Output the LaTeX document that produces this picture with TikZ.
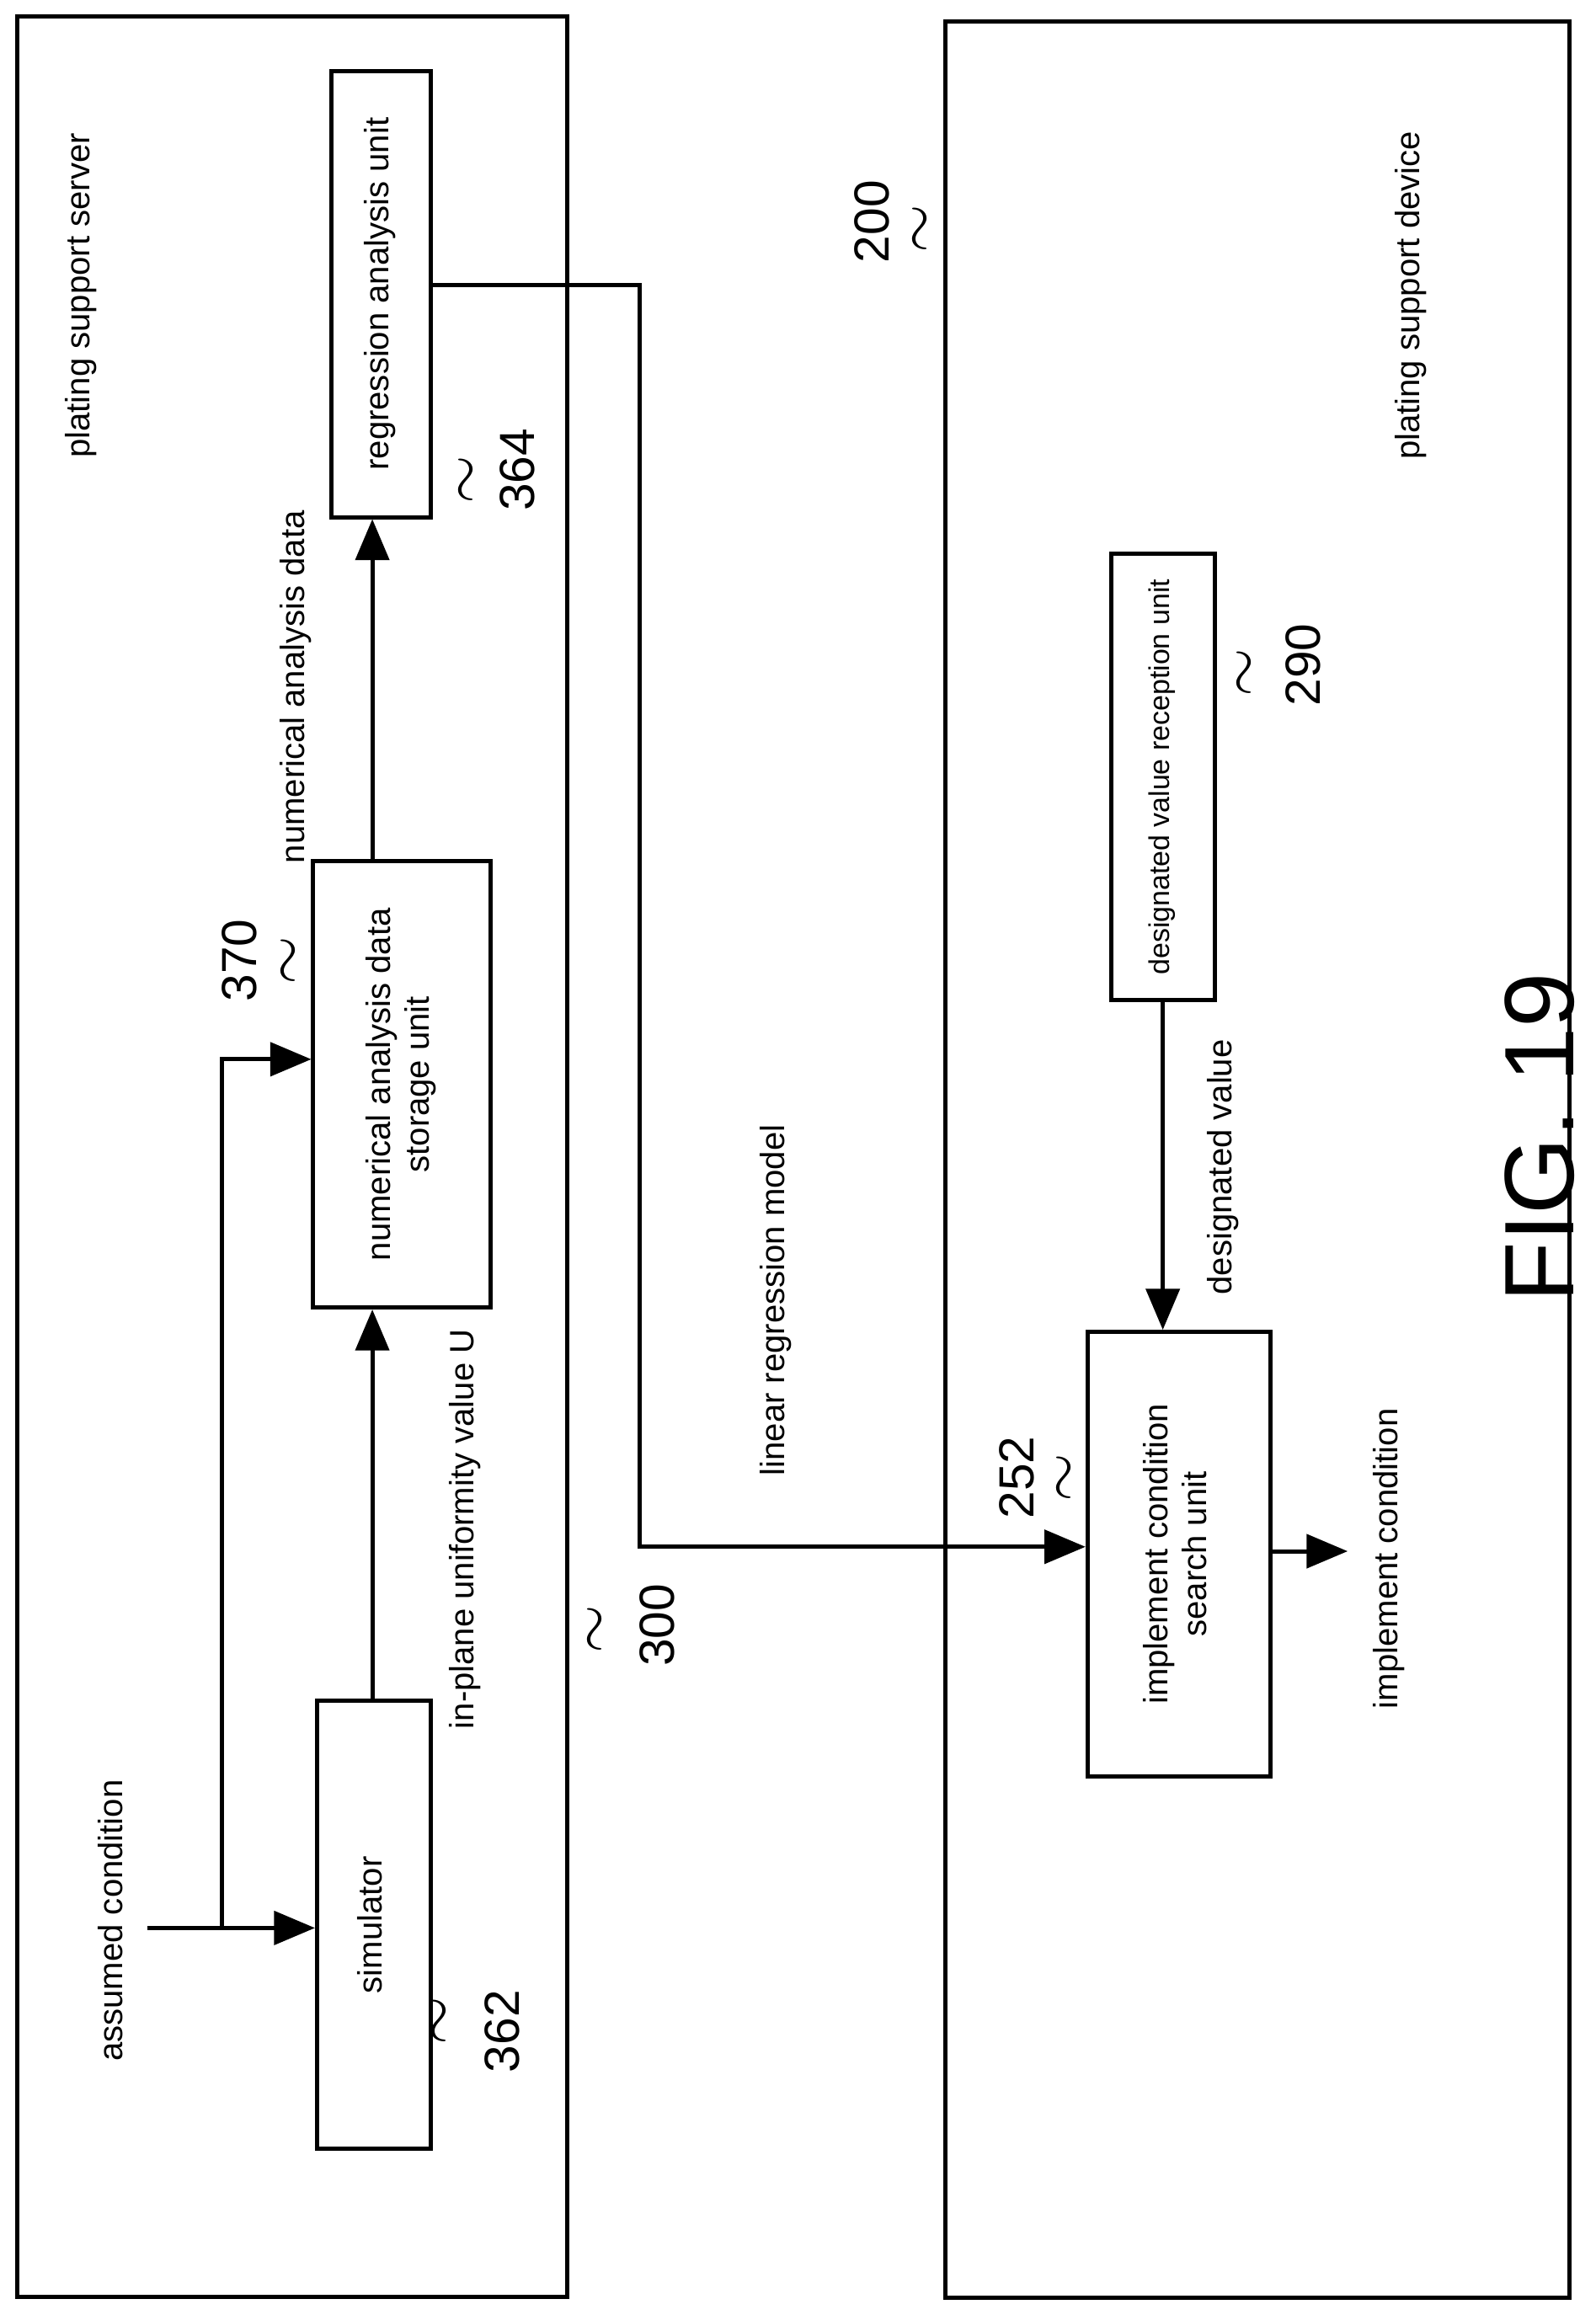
\documentclass[tikz,border=0pt]{standalone}
\usepackage{fontspec}
\setmainfont{Liberation Sans}
\usetikzlibrary{arrows}

\newcommand{\rot}[1]{\rotatebox{90}{\begin{tabular}{@{}c@{}}#1\end{tabular}}}

\begin{document}
\begin{tikzpicture}[x=0.01cm,y=-0.01cm,>=triangle 45,thick,
                    unit/.style={rectangle,draw,inner sep=0pt,font=\fontsize{6.5}{7.5}\selectfont},
                    lbl/.style={font=\fontsize{6.5}{7.5}\selectfont,rotate=90},
                    ref/.style={font=\fontsize{9.5}{10}\selectfont,rotate=90},
                    wave/.style={font=\large,rotate=90}]
  \useasboundingbox (0,0) rectangle (1080,1567);

  % outer frames
  \node[draw,minimum width=3.72cm,minimum height=15.43cm] (300) at (198,783) {};
  \node[draw,minimum width=4.22cm,minimum height=15.40cm] (200) at (851,785) {};

  % units
  \node[unit,minimum width=0.67cm,minimum height=3.02cm] (364) at (258,199) {\rot{regression analysis unit}};
  \node[unit,minimum width=1.20cm,minimum height=3.02cm] (370) at (272,734) {\rot{numerical analysis data\\storage unit}};
  \node[unit,minimum width=0.77cm,minimum height=3.03cm] (362) at (253,1303) {\rot{simulator}};
  \node[unit,minimum width=1.24cm,minimum height=3.01cm] (252) at (798,1052) {\rot{implement condition\\search unit}};
  \node[unit,minimum width=0.70cm,minimum height=3.02cm,font=\fontsize{5.5}{6.5}\selectfont] (290) at (787,526) {\rot{designated value reception unit}};

  \coordinate (in) at (100,1305);
  \coordinate (split) at (150,1305);
  \coordinate (out) at (912,1050);

  % connectors
  \draw[->] (in) -- (362.west |- in);
  \draw[->] (split) |- (370.west |- 0,717);
  \draw[->] (362.north -| 252,0) -- (370.south -| 252,0);
  \draw[->] (370.north -| 252,0) -- (364.south -| 252,0);
  \draw[->] (364.east |- 0,193) -| (433,1047) -- (252.west |- 0,1047);
  \draw[->] (290.south) -- (252.north -| 290.south);
  \draw[->] (252.east |- out) -- (out);

  % labels
  \node[lbl] at (55,200) {plating support server};
  \node[lbl] at (75,1300) {assumed condition};
  \node[lbl] at (315,1035) {in-plane uniformity value U};
  \node[lbl] at (200,465) {numerical analysis data};
  \node[lbl] at (525,880) {linear regression model};
  \node[lbl] at (828,790) {designated value};
  \node[lbl] at (940,1055) {implement condition};
  \node[lbl] at (955,200) {plating support device};
  \node[rotate=90,font=\fontsize{19}{21}\selectfont] at (1042,770) {FIG. 19};

  % reference numerals
  \node[ref] at (350,318) {364};  \node[wave] at (318,325) {$\sim$};
  \node[ref] at (340,1375) {362}; \node[wave] at (300,1368) {$\sim$};
  \node[ref] at (162,650) {370};  \node[wave] at (198,650) {$\sim$};
  \node[ref] at (445,1100) {300}; \node[wave] at (405,1103) {$\sim$};
  \node[ref] at (590,150) {200};  \node[wave] at (625,155) {$\sim$};
  \node[ref] at (882,450) {290};  \node[wave] at (845,455) {$\sim$};
  \node[ref] at (688,1000) {252}; \node[wave] at (723,1000) {$\sim$};
\end{tikzpicture}
\end{document}
